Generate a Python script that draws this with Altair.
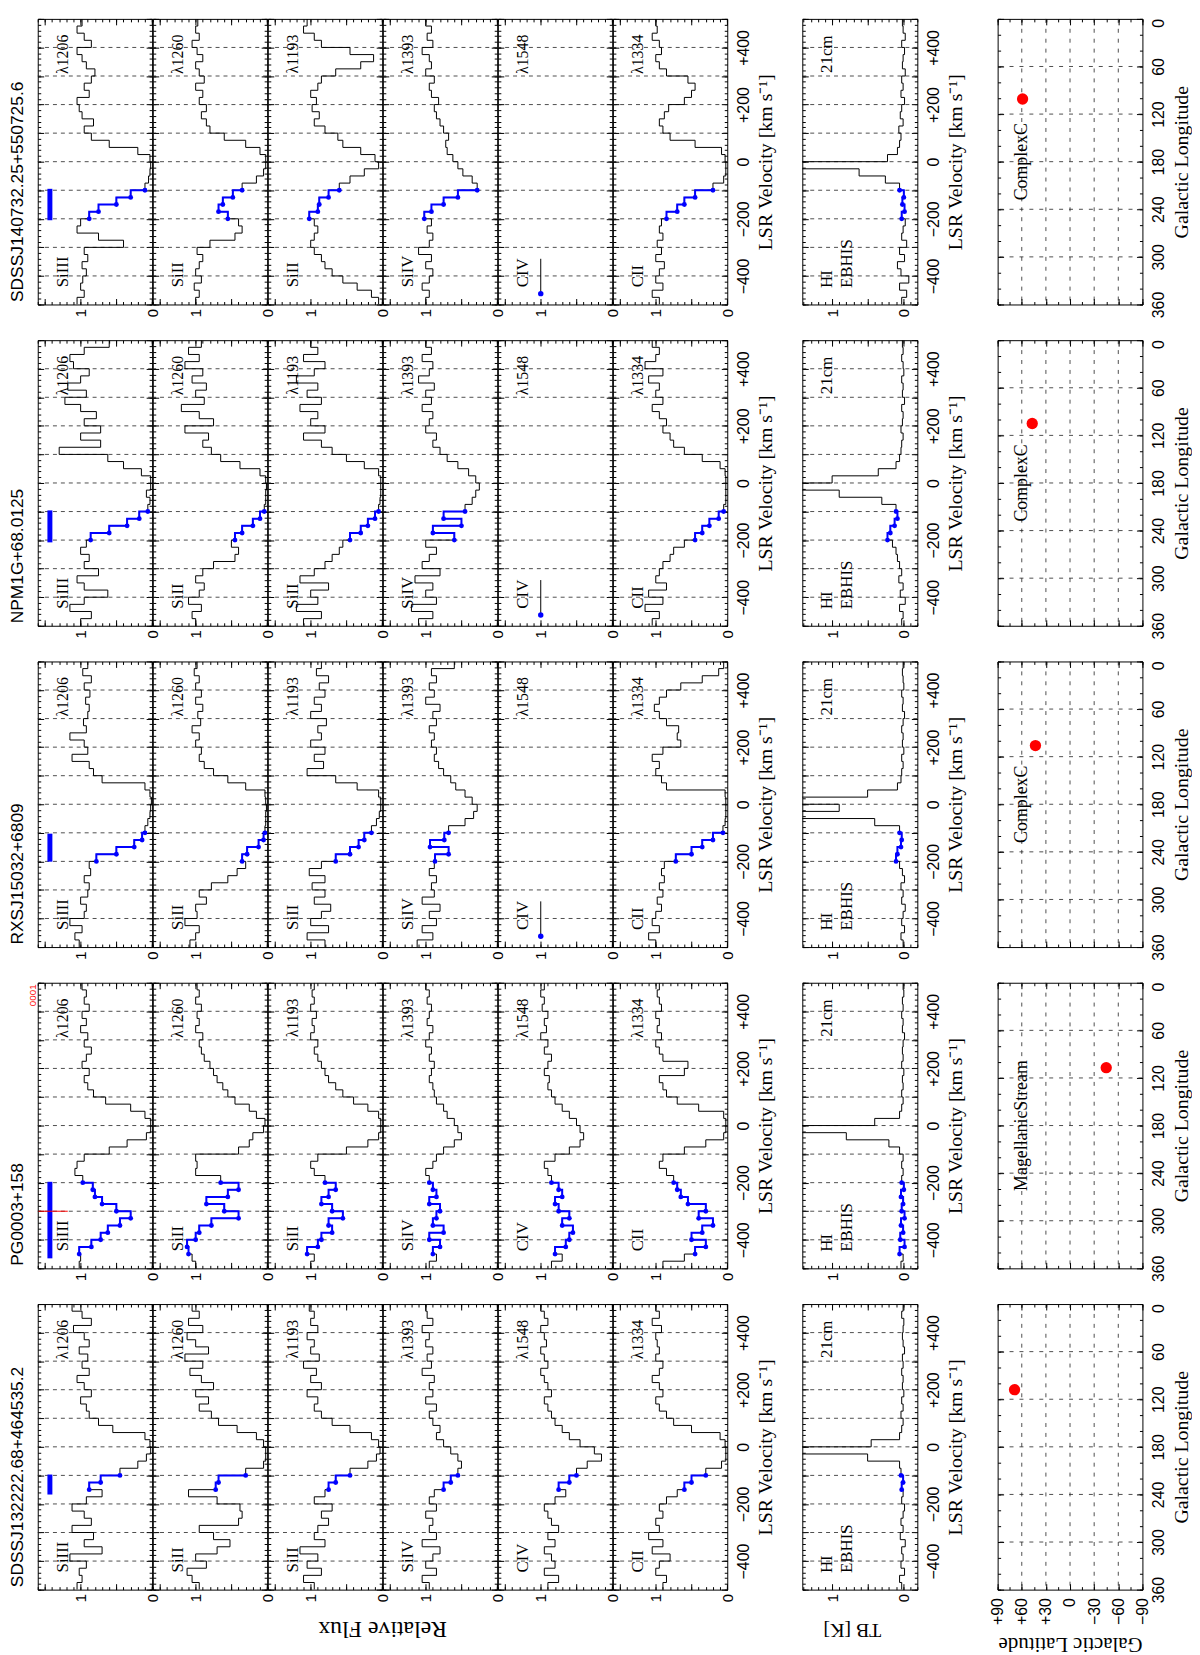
import altair as alt
import pandas as pd

# ---------------- data ----------------
VEL = [-500 + 25 * i for i in range(40)]          # bin starts, km/s
GRID_V = [-400, -300, -200, -100, 0, 100, 200, 300, 400]
LAT_GRID = [-60, -30, 0, 30, 60]
LON_GRID = [60, 120, 180, 240, 300]

SIGHTLINES = ["SDSSJ140732.25+550725.6", "NPM1G+68.0125", "RXSJ15032+6809",
              "PG0003+158", "SDSSJ132222.68+464535.2"]
IONS = ["SiIII", "SiII", "SiII", "SiIV", "CIV", "CII"]
LAMBDAS = ["λ1206", "λ1260", "λ1193", "λ1393", "λ1548", "λ1334"]
BAR_RANGES = [(-205, -95), (-208, -96), (-201, -103), (-465, -197), (-167, -97)]
DOT_RANGES = [(-200, -100), (-200, -100), (-200, -100), (-450, -200), (-150, -100)]
GAL_L = [101, 105, 106, 107, 108]
GAL_B = [59, 47, 43, -45, 69]
REGION = ["ComplexC", "ComplexC", "ComplexC", "MagellanicStream", ""]

# band 1: SDSSJ140732.25+550725.6
b1_siiii = [1.05,0.95,1.0,0.97,0.92, 0.98,0.9,0.95,0.4,0.75, 1.05,1.0,0.88,0.75,0.5, 0.3,0.1,0.05,0.03,0.02,
            0.03,0.2,0.6,0.85,0.95, 0.82,0.98,1.02,1.05,0.88, 0.95,0.85,0.8,0.92,0.98, 1.05,0.85,0.95,1.05,0.98]
b1_sii1260 = [1.0,0.95,1.02,0.92,1.0, 0.95,0.9,0.98,0.8,0.45, 0.35,0.4,0.55,0.68,0.62, 0.48,0.35,0.15,0.05,0.02,
              0.02,0.1,0.3,0.6,0.8, 0.85,0.92,0.85,0.95,0.9, 1.0,0.88,0.95,1.0,0.9, 0.98,1.05,0.95,1.0,0.97]
b1_sii1193 = [0.05,0.15,0.35,0.55,0.7, 0.8,0.85,0.95,1.0,0.95, 0.9,0.95,1.02,0.9,0.88, 0.75,0.6,0.45,0.25,0.05,
              0.1,0.3,0.55,0.62,0.8, 0.95,0.88,0.98,0.92,1.0, 0.9,0.85,0.65,0.3,0.12, 0.45,0.85,0.95,1.1,1.05]
b1_siiv = [1.0,0.95,1.05,0.95,0.9, 1.0,0.92,1.1,0.95,0.9, 0.98,0.92,1.02,0.92,0.75, 0.55,0.28,0.35,0.48,0.55,
           0.62,0.7,0.72,0.68,0.75, 0.8,0.85,0.88,0.82,0.92, 0.95,0.88,1.0,0.92,0.95, 1.05,0.9,0.98,0.92,1.0]
b1_cii = [0.95,1.05,0.9,1.0,0.95, 0.88,1.0,0.92,0.98,0.9, 0.95,0.92,0.85,0.7,0.6, 0.45,0.2,0.05,0.02,0.02,
          0.03,0.08,0.45,0.8,0.9, 0.95,0.88,0.82,0.6,0.5, 0.45,0.55,0.85,0.95,1.0, 0.92,0.95,1.05,0.98,1.0]
b1_hi = [0.02,-0.05,0.05,-0.08,0.03, 0.08,-0.02,0.05,-0.05,0.02, 0.0,-0.03,0.02,-0.02,0.01, -0.01,0.05,0.25,0.62,1.6,
         0.22,0.08,0.05,0.03,0.06, 0.0,0.04,0.02,-0.02,0.03, 0.0,0.02,-0.03,0.01,0.0, -0.02,0.02,-0.03,0.0,0.01]

# band 2: NPM1G+68.0125
b2_siiii = [1.0,0.85,1.15,0.95,0.62, 0.95,1.05,0.75,0.95,0.88, 1.0,0.92,0.86,0.6,0.35, 0.18,0.06,0.03,0.08,0.02,
            0.02,0.15,0.4,0.62,1.3, 0.72,1.0,0.72,0.95,0.78, 1.0,1.22,0.92,1.18,1.0, 0.88,1.1,1.15,0.95,0.6]
b2_sii1260 = [1.0,1.05,0.92,1.1,0.95, 0.88,1.0,0.9,0.75,0.45, 0.4,0.5,0.45,0.35,0.2, 0.1,0.04,0.02,0.02,0.01,
              0.02,0.1,0.38,0.65,0.78, 0.9,0.82,1.15,0.75,0.95, 1.2,0.88,1.0,0.85,1.05, 0.9,1.15,0.95,1.1,0.92]
b2_sii1193 = [1.1,0.85,1.2,0.9,1.0, 0.75,1.15,0.95,0.8,0.7, 0.6,0.55,0.45,0.3,0.2, 0.1,0.05,0.03,0.02,0.02,
              0.02,0.05,0.25,0.5,0.7, 0.85,1.1,0.8,1.0,0.9, 1.15,0.85,1.05,0.9,1.2, 0.95,0.8,1.1,0.9,1.0]
b2_siiv = [1.1,0.9,1.2,0.85,1.0, 0.9,1.15,0.8,1.05,0.95, 0.85,1.0,0.6,0.9,0.5, 0.75,0.45,0.35,0.3,0.25,
           0.3,0.4,0.55,0.7,0.8, 0.9,0.85,1.0,0.95,0.9, 1.05,0.92,1.0,0.88,1.1, 0.95,0.9,1.05,0.92,1.0]
b2_cii = [1.05,0.95,1.15,0.9,1.1, 0.85,1.0,0.95,0.9,0.8, 0.75,0.6,0.45,0.35,0.25, 0.12,0.05,0.02,0.02,0.02,
          0.02,0.03,0.1,0.35,0.6, 0.75,0.8,0.9,0.85,0.95, 1.05,0.9,1.0,0.95,1.1, 0.9,1.15,1.0,0.95,1.05]
b2_hi = [0.02,0.0,0.05,-0.03,0.04, 0.0,0.06,0.02,0.05,0.08, 0.1,0.15,0.22,0.18,0.12, 0.08,0.1,0.3,0.9,1.6,
         1.0,0.35,0.1,0.05,0.03, 0.02,0.0,0.03,0.01,0.0, 0.02,-0.02,0.01,0.0,0.02, -0.01,0.0,0.02,0.0,0.01]

# band 3: RXSJ15032+6809
b3_siiii = [1.02,1.08,0.98,1.15,0.95, 0.92,1.0,0.9,0.88,0.95, 0.86,0.88,0.78,0.5,0.25, 0.14,0.1,0.06,0.03,0.02,
            0.01,0.03,0.1,0.7,0.82, 0.88,1.12,0.9,0.95,1.15, 0.92,0.96,0.9,0.88,0.93, 0.87,0.95,0.85,0.97,0.9]
b3_sii1260 = [1.08,1.0,0.95,1.15,0.98, 1.0,0.85,0.95,0.78,0.55, 0.42,0.3,0.35,0.28,0.12, 0.05,0.03,0.02,0.02,0.01,
              0.02,0.03,0.3,0.55,0.75, 0.88,0.95,0.92,1.0,0.95, 1.05,0.93,0.97,0.9,1.0, 0.92,1.0,0.95,1.02,0.98]
b3_sii1193 = [0.8,1.05,0.75,1.0,0.85, 0.72,0.95,0.8,0.98,0.8, 1.02,0.85,0.65,0.45,0.33, 0.25,0.15,0.08,0.04,0.02,
              0.02,0.05,0.35,0.65,1.05, 0.82,0.95,0.8,1.0,0.85, 0.9,0.78,1.0,0.85,0.95, 0.8,0.88,0.75,0.92,0.85]
b3_siiv = [1.12,0.9,1.05,0.85,0.95, 0.8,1.05,0.88,0.92,0.85, 0.95,0.88,0.87,0.68,0.94, 0.74,0.68,0.45,0.33,0.28,
           0.35,0.45,0.58,0.65,0.75, 0.82,0.88,0.85,0.92,0.88, 0.95,0.85,0.9,0.8,1.0, 0.88,0.95,0.85,0.92,0.6]
b3_cii = [1.0,1.1,0.95,1.05,1.0, 0.92,0.98,0.9,0.95,0.88, 0.92,0.88,0.72,0.5,0.35, 0.2,0.06,0.03,0.02,0.02,
          0.02,0.03,0.85,0.92,1.0, 0.95,1.05,0.9,0.65,0.7, 0.68,0.85,0.95,1.02,0.95, 0.85,0.65,0.35,0.12,0.05]
b3_hi = [0.0,0.03,-0.02,0.02,0.0, -0.03,0.02,0.0,0.03,-0.02, 0.01,0.05,0.1,0.08,0.03, 0.02,0.05,0.4,1.6,0.9,
         1.6,0.5,0.08,0.03,0.02, 0.0,0.02,-0.01,0.01,0.0, 0.02,0.0,-0.02,0.01,0.0, 0.02,-0.01,0.0,0.01,0.0]

# band 4: PG0003+158
b4_siiii = [1.02,1.0,1.02,0.85,0.72, 0.62,0.45,0.3,0.5,0.7, 0.8,0.83,0.97,1.08,1.05, 0.95,0.6,0.35,0.08,0.02,
            0.02,0.1,0.3,0.65,0.82, 0.9,0.95,0.88,0.98,0.92, 0.85,0.95,0.9,1.0,0.92, 0.98,0.88,0.95,0.92,0.98]
b4_sii1260 = [1.0,1.05,1.1,1.12,1.0, 0.95,0.78,0.4,0.6,0.85, 0.55,0.4,0.65,1.0,0.98, 1.0,0.4,0.25,0.2,0.05,
              0.03,0.15,0.25,0.45,0.55, 0.62,0.7,0.75,0.8,0.88, 0.92,0.95,0.9,1.0,0.95, 0.98,0.92,1.0,0.95,0.98]
b4_sii1193 = [1.0,0.95,1.05,0.9,0.85, 0.7,0.75,0.55,0.7,0.85, 0.75,0.65,0.8,0.95,1.0, 0.9,0.5,0.2,0.05,0.02,
              0.02,0.05,0.2,0.4,0.55, 0.65,0.75,0.8,0.85,0.9, 0.95,0.9,1.0,0.95,0.98, 0.92,1.0,0.95,0.98,0.95]
b4_siiv = [0.95,0.85,0.9,0.8,0.95, 0.75,0.9,0.85,0.8,0.95, 0.85,0.9,0.95,1.0,0.9, 0.85,0.75,0.6,0.5,0.55,
           0.6,0.7,0.75,0.85,0.88, 0.9,0.95,0.92,0.88,0.95, 0.92,1.0,0.95,0.9,0.98, 0.95,0.92,0.98,0.95,1.0]
b4_civ = [0.85,0.7,0.8,0.65,0.6, 0.55,0.7,0.6,0.75,0.8, 0.7,0.75,0.85,0.9,0.95, 0.8,0.6,0.45,0.4,0.45,
          0.5,0.6,0.7,0.8,0.85, 0.9,0.88,0.95,0.9,0.85, 0.95,0.9,1.0,0.92,0.95, 0.9,0.98,0.95,1.0,0.95]
b4_cii = [0.9,0.6,0.45,0.3,0.5, 0.35,0.2,0.4,0.3,0.55, 0.65,0.7,0.75,0.85,0.95, 0.9,0.6,0.3,0.05,0.02,
          0.02,0.05,0.4,0.7,0.85, 0.9,0.95,0.6,0.55,0.9, 0.95,1.0,0.92,0.98,0.95, 1.0,0.92,0.95,0.98,0.95]
b4_hi = [0.03,0.0,0.05,-0.02,0.04, 0.0,0.03,-0.02,0.02,0.0, 0.03,-0.01,0.02,0.0,0.02, 0.0,0.05,0.2,0.8,1.6,
         0.4,0.05,0.02,0.0,0.02, 0.0,0.01,-0.01,0.02,0.0, 0.01,0.0,-0.02,0.01,0.0, 0.02,0.0,0.01,-0.01,0.0]

# band 5: SDSSJ132222.68+464535.2
b5_siiii = [1.05,0.98,1.02,0.92,1.15, 0.7,0.95,0.82,1.12,0.85, 0.95,1.12,0.92,0.7,0.88, 0.72,0.45,0.2,0.08,0.02,
            0.03,0.1,0.55,0.75,0.88, 0.92,1.0,0.85,0.95,1.05, 0.88,0.98,0.9,1.02,0.88, 0.95,1.1,0.85,0.98,1.12]
b5_sii1260 = [0.95,1.05,1.12,0.85,1.0, 0.7,0.52,0.75,0.95,0.4, 0.35,0.38,0.7,1.1,0.72, 0.68,0.3,0.05,0.02,0.02,
              0.05,0.15,0.42,0.68,0.78, 0.95,0.82,1.0,0.75,0.92, 1.08,0.9,1.15,0.82,1.0, 1.12,0.9,1.1,0.95,1.05]
b5_sii1193 = [0.95,1.1,0.85,1.05,0.9, 1.15,0.8,0.95,0.9,0.75, 0.85,0.7,0.95,0.8,0.75, 0.65,0.45,0.2,0.08,0.03,
              0.05,0.15,0.45,0.7,0.85, 0.95,0.9,1.05,0.85,1.0, 0.92,1.1,0.88,1.0,0.95, 1.05,0.9,1.0,0.95,1.02]
b5_siiv = [0.95,1.05,0.85,1.0,0.9, 0.8,1.05,0.85,0.95,0.9, 1.0,0.85,0.95,0.88,0.75, 0.65,0.55,0.5,0.55,0.65,
           0.75,0.85,0.8,0.9,0.95, 0.85,1.0,0.9,0.95,0.88, 1.05,0.92,0.98,0.9,1.0, 0.95,1.05,0.9,0.98,1.0]
b5_civ = [0.9,0.75,0.95,0.8,0.85, 0.95,0.8,0.9,0.75,0.85, 0.9,0.95,0.8,0.65,0.75, 0.6,0.5,0.35,0.15,0.25,
          0.45,0.6,0.7,0.8,0.85, 0.9,0.95,0.85,0.9,0.95, 1.0,0.9,0.95,1.0,0.92, 0.95,1.0,0.9,0.95,1.0]
b5_cii = [0.9,0.85,1.0,0.95,0.8, 1.05,0.9,1.1,0.95,1.0, 0.9,0.95,0.85,0.7,0.6, 0.5,0.3,0.08,0.02,0.02,
          0.03,0.1,0.5,0.75,0.85, 0.95,1.0,0.9,0.95,1.05, 0.95,0.9,1.0,0.95,0.98, 1.0,0.92,1.05,0.95,1.0]
b5_hi = [0.02,0.05,-0.02,0.03,0.0, 0.02,-0.03,0.04,0.0,0.03, 0.0,-0.02,0.02,0.0,0.02, 0.0,0.03,0.05,0.5,1.6,
         0.45,0.05,0.02,0.0,0.03, 0.0,0.02,-0.01,0.01,0.0, 0.02,0.0,0.01,-0.02,0.0, 0.01,0.0,-0.01,0.02,0.0]

SPECTRA = [
    [b1_siiii, b1_sii1260, b1_sii1193, b1_siiv, None, b1_cii],
    [b2_siiii, b2_sii1260, b2_sii1193, b2_siiv, None, b2_cii],
    [b3_siiii, b3_sii1260, b3_sii1193, b3_siiv, None, b3_cii],
    [b4_siiii, b4_sii1260, b4_sii1193, b4_siiv, b4_civ, b4_cii],
    [b5_siiii, b5_sii1260, b5_sii1193, b5_siiv, b5_civ, b5_cii],
]
HI_SPECTRA = [b1_hi, b2_hi, b3_hi, b4_hi, b5_hi]

# ---------------- style ----------------
W, H = 115.33, 288
HI_W, MAP_W = 116, 146
GAP1, GAP2 = 75, 81
ROW_GAP = 36
BLUE, RED = "#0000ff", "#ff0000"
SANS, SERIF = "Liberation Sans", "Liberation Serif"
VEL_EXPR = "datum.value > 0 ? '+' + datum.value : (datum.value < 0 ? '\u2212' + (-datum.value) : '0')"


def seq(a, b, step):
    out, x = [], a
    while x <= b + 1e-9:
        out.append(round(x, 4))
        x += step
    return out


def tick_axis(orient, offset, values, size):
    return alt.Axis(orient=orient, offset=offset, values=values, tickSize=size, tickColor="black",
                    tickWidth=1, labels=False, domain=False, grid=False, title=None, ticks=True)


def carriers(xs, ys, x0, w, h, xminor, xmajor, yminor, ymajor, xlab, ylab):
    df = pd.DataFrame({"x": [x0], "y": [0]})
    pairs = [
        (tick_axis("top", -h, xminor, 3), tick_axis("right", -w, yminor, 3)),
        (tick_axis("top", -h, xmajor, 6), tick_axis("right", -w, ymajor, 6)),
        (tick_axis("bottom", -h, xminor, 3), tick_axis("left", -w, yminor, 3)),
        (tick_axis("bottom", -h, xmajor, 6), tick_axis("left", -w, ymajor, 6)),
        (xlab, ylab),
    ]
    out = []
    for xa, ya in pairs:
        out.append(alt.Chart(df).mark_point(opacity=0).encode(
            x=alt.X("x:Q", scale=xs, axis=xa), y=alt.Y("y:Q", scale=ys, axis=ya)))
    return out


def vel_label_axis():
    return alt.Axis(orient="right", values=[-400, -200, 0, 200, 400], labelExpr=VEL_EXPR, ticks=False,
                    domain=False, grid=False, labelAngle=270, labelAlign="center", labelBaseline="top",
                    labelPadding=8, labelFont=SANS, labelFontSize=16, labelFlush=False, labelOverlap=False,
                    labelColor="black", title="LSR Velocity  [km s\u207b\u00b9]", titleAngle=270,
                    titleAlign="center", titleBaseline="top", titlePadding=5, titleFont=SERIF,
                    titleFontSize=20, titleFontWeight="normal", titleColor="black")


def flux_label_axis(title=None, title_x=0, title_y=39, title_size=20):
    kw = dict(orient="bottom", values=[0, 1], format="d", ticks=False, domain=False, grid=False,
              labelAngle=270, labelAlign="right", labelBaseline="middle", labelPadding=4, labelFont=SANS,
              labelFontSize=15, labelFlush=False, labelOverlap=False, labelColor="black")
    if title:
        kw.update(title=title, titleAngle=180, titleX=title_x, titleY=title_y, titleAlign="center",
                  titleBaseline="middle", titleFont=SERIF, titleFontSize=title_size, titleFontWeight="normal",
                  titleColor="black")
    else:
        kw["title"] = None
    return alt.Axis(**kw)


def spec_df(vals):
    return pd.DataFrame({"v": VEL + [500], "f": vals + [vals[-1]]})


def grid_layer(ys):
    return alt.Chart(pd.DataFrame({"v": GRID_V})).mark_rule(
        strokeDash=[4, 4], color="#222", strokeWidth=0.8).encode(y=alt.Y("v:Q", scale=ys, axis=None))


def text_layer(xs, ys, f, v, txt, align, size=17, font=SERIF, color="black"):
    return alt.Chart(pd.DataFrame({"f": [f], "v": [v], "t": [txt]})).mark_text(
        angle=270, align=align, baseline="middle", font=font, fontSize=size, color=color).encode(
        x=alt.X("f:Q", scale=xs, axis=None), y=alt.Y("v:Q", scale=ys, axis=None), text="t:N")


def spectrum_panel(b, i):
    xs = alt.Scale(domain=[0, 1.6], reverse=True)
    ys = alt.Scale(domain=[-500, 500])
    layers = [grid_layer(ys)]
    vals = SPECTRA[b][i]
    if vals is not None:
        df = spec_df(vals)
        layers.append(alt.Chart(df).mark_line(color="black", strokeWidth=1, interpolate="step-before",
                                              clip=True).encode(
            x=alt.X("f:Q", scale=xs, axis=None), y=alt.Y("v:Q", scale=ys, axis=None), order="v:Q"))
        lo, hi = DOT_RANGES[b]
        sub = df[(df.v >= lo) & (df.v <= hi)]
        layers.append(alt.Chart(sub).mark_line(color=BLUE, strokeWidth=2, interpolate="step-before").encode(
            x=alt.X("f:Q", scale=xs, axis=None), y=alt.Y("v:Q", scale=ys, axis=None), order="v:Q"))
        layers.append(alt.Chart(sub).mark_circle(color=BLUE, size=24, opacity=1).encode(
            x=alt.X("f:Q", scale=xs, axis=None), y=alt.Y("v:Q", scale=ys, axis=None)))
    else:
        mk = pd.DataFrame({"f": [1.0], "v": [-462], "v2": [-340]})
        layers.append(alt.Chart(mk).mark_rule(color="black", strokeWidth=1).encode(
            x=alt.X("f:Q", scale=xs, axis=None), y=alt.Y("v:Q", scale=ys, axis=None), y2="v2:Q"))
        layers.append(alt.Chart(mk).mark_circle(color=BLUE, size=30, opacity=1).encode(
            x=alt.X("f:Q", scale=xs, axis=None), y=alt.Y("v:Q", scale=ys, axis=None)))
    if i == 0:
        lo, hi = BAR_RANGES[b]
        bar = pd.DataFrame({"f": [1.43], "v": [lo], "v2": [hi]})
        layers.append(alt.Chart(bar).mark_rule(color=BLUE, strokeWidth=5).encode(
            x=alt.X("f:Q", scale=xs, axis=None), y=alt.Y("v:Q", scale=ys, axis=None), y2="v2:Q"))
        if b == 3:
            red = pd.DataFrame({"f": [1.59], "f2": [1.18], "v": [-300]})
            layers.append(alt.Chart(red).mark_rule(color=RED, strokeWidth=1).encode(
                x=alt.X("f:Q", scale=xs, axis=None), x2="f2:Q", y=alt.Y("v:Q", scale=ys, axis=None)))
            layers.append(text_layer(xs, ys, 1.67, 495, "0001", "right", size=10, font=SANS, color=RED))
    layers.append(text_layer(xs, ys, 1.25, -440, IONS[i], "left"))
    layers.append(text_layer(xs, ys, 1.25, 445, LAMBDAS[i], "right", size=16))

    if i == 0:
        ylab = alt.Axis(orient="left", labels=False, ticks=False, domain=False, grid=False,
                        title=SIGHTLINES[b], titleAngle=270, titleX=-20, titleY=H - 3, titleAlign="left",
                        titleBaseline="middle", titleFont=SANS, titleFontSize=17.5, titleFontWeight="normal",
                        titleColor="black")
    elif i == 5:
        ylab = vel_label_axis()
    else:
        ylab = None
    if b == 4 and i == 2:
        xlab = flux_label_axis("Relative Flux", title_x=W, title_y=39, title_size=24)
    else:
        xlab = flux_label_axis()
    layers += carriers(xs, ys, 0, W, H, seq(0, 1.6, 0.1), [0, 0.5, 1.0, 1.5],
                       seq(-500, 500, 20), seq(-500, 500, 100), xlab, ylab)
    return alt.layer(*layers).resolve_axis(x="independent", y="independent").properties(width=W, height=H)


def hi_panel(b):
    xs = alt.Scale(domain=[-0.2, 1.42], reverse=True)
    ys = alt.Scale(domain=[-500, 500])
    df = spec_df(HI_SPECTRA[b])
    lo, hi = DOT_RANGES[b]
    sub = df[(df.v >= lo) & (df.v <= hi)]
    layers = [
        grid_layer(ys),
        alt.Chart(df).mark_line(color="black", strokeWidth=1, interpolate="step-before", clip=True).encode(
            x=alt.X("f:Q", scale=xs, axis=None), y=alt.Y("v:Q", scale=ys, axis=None), order="v:Q"),
        alt.Chart(sub).mark_line(color=BLUE, strokeWidth=2, interpolate="step-before").encode(
            x=alt.X("f:Q", scale=xs, axis=None), y=alt.Y("v:Q", scale=ys, axis=None), order="v:Q"),
        alt.Chart(sub).mark_circle(color=BLUE, size=24, opacity=1).encode(
            x=alt.X("f:Q", scale=xs, axis=None), y=alt.Y("v:Q", scale=ys, axis=None)),
        text_layer(xs, ys, 1.07, -442, "HI", "left"),
        text_layer(xs, ys, 0.79, -442, "EBHIS", "left"),
        text_layer(xs, ys, 1.07, 442, "21cm", "right"),
    ]
    if b == 4:
        xlab = flux_label_axis("TB [K]", title_x=50, title_y=40, title_size=20)
    else:
        xlab = flux_label_axis()
    layers += carriers(xs, ys, 0, HI_W, H, seq(-0.2, 1.4, 0.1), [0, 0.5, 1.0],
                       seq(-500, 500, 20), seq(-500, 500, 100), xlab, vel_label_axis())
    return alt.layer(*layers).resolve_axis(x="independent", y="independent").properties(width=HI_W, height=H)


def map_panel(b):
    xs = alt.Scale(domain=[-90, 90], reverse=True)
    ys = alt.Scale(domain=[0, 360], reverse=True)
    layers = [
        alt.Chart(pd.DataFrame({"lat": LAT_GRID})).mark_rule(strokeDash=[4, 6], color="#222", strokeWidth=0.8)
        .encode(x=alt.X("lat:Q", scale=xs, axis=None)),
        alt.Chart(pd.DataFrame({"lon": LON_GRID})).mark_rule(strokeDash=[4, 6], color="#222", strokeWidth=0.8)
        .encode(y=alt.Y("lon:Q", scale=ys, axis=None)),
        alt.Chart(pd.DataFrame({"lat": [GAL_B[b]], "lon": [GAL_L[b]]})).mark_circle(
            color=RED, size=130, opacity=1).encode(
            x=alt.X("lat:Q", scale=xs, axis=None), y=alt.Y("lon:Q", scale=ys, axis=None)),
    ]
    if REGION[b]:
        layers.append(alt.Chart(pd.DataFrame({"lat": [60], "lon": [180], "t": [REGION[b]]})).mark_text(
            angle=270, align="center", baseline="middle", font=SERIF, fontSize=18, color="black").encode(
            x=alt.X("lat:Q", scale=xs, axis=None), y=alt.Y("lon:Q", scale=ys, axis=None), text="t:N"))
    ylab = alt.Axis(orient="right", values=seq(0, 360, 60), format="d", ticks=False, domain=False, grid=False,
                    labelAngle=270, labelAlign="center", labelBaseline="top", labelPadding=8, labelFont=SANS,
                    labelFontSize=16, labelFlush=False, labelOverlap=False, labelColor="black",
                    labelOffset={"condition": {"test": "datum.value == 0", "value": 4}, "value": 0},
                    title="Galactic Longitude", titleAngle=270, titleAlign="center", titleBaseline="top",
                    titlePadding=5, titleFont=SERIF, titleFontSize=20, titleFontWeight="normal",
                    titleColor="black")
    if b == 4:
        xlab = alt.Axis(orient="bottom", values=seq(-90, 90, 30), labelExpr=VEL_EXPR, ticks=False,
                        domain=False, grid=False, labelAngle=270, labelAlign="right", labelBaseline="middle",
                        labelPadding=8, labelFont=SANS, labelFontSize=16, labelFlush=False, labelOverlap=False,
                        labelColor="black", title="Galactic Latitude", titleAngle=180, titleX=MAP_W / 2,
                        titleY=54, titleAlign="center", titleBaseline="middle", titleFont=SERIF,
                        titleFontSize=21, titleFontWeight="normal", titleColor="black")
    else:
        xlab = None
    layers += carriers(xs, ys, 0, MAP_W, H, seq(-90, 90, 15), seq(-90, 90, 30),
                       seq(0, 360, 20), seq(0, 360, 60), xlab, ylab)
    return alt.layer(*layers).resolve_axis(x="independent", y="independent").properties(width=MAP_W, height=H)


def spacer(w):
    return alt.Chart(pd.DataFrame({"s": [0]})).mark_point(opacity=0).encode(
        x=alt.X("s:Q", axis=None), y=alt.Y("s:Q", axis=None)).properties(
        width=w, height=H, view=alt.ViewBackground(stroke="transparent"))


cells = []
for b in range(5):
    cells += [spectrum_panel(b, i) for i in range(6)]
    cells += [spacer(GAP1), hi_panel(b), spacer(GAP2), map_panel(b)]

chart = alt.concat(*cells, columns=10, spacing={"row": ROW_GAP, "column": 0}, bounds="flush").properties(
    padding={"left": 0, "top": 0, "right": 0, "bottom": 0}
).configure_view(stroke="black", strokeWidth=1).configure_axis(labelColor="black", titleColor="black")

chart.save("out.html", embed_options={"renderer": "svg", "actions": False})
